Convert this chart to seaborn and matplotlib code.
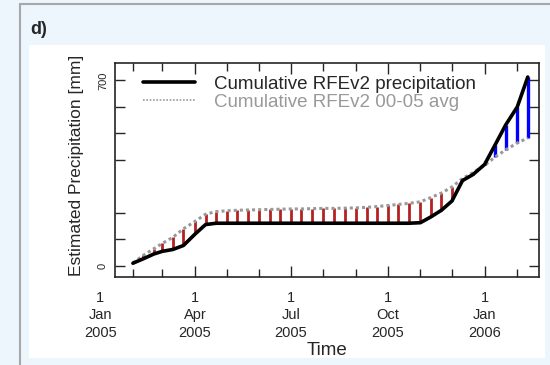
import numpy as np
import pandas as pd
import matplotlib
matplotlib.use("Agg")
import matplotlib.pyplot as plt
import matplotlib.dates as mdates
import matplotlib.transforms as mtransforms
from matplotlib.patches import Rectangle
import seaborn as sns

# dekadal dates (1st, 11th, 21st of each month), Feb 2005 - Feb 2006
days = pd.date_range("2005-02-01", "2006-02-11", freq="D")
dekads = days[days.day.isin([1, 11, 21])]

# cumulative RFEv2 precipitation 2005/06 [mm]
rfe_cum = [10, 27, 45,
           55, 62, 77,
           120, 156, 161,
           161, 161, 161,
           161, 161, 161,
           161, 161, 161,
           161, 161, 161,
           161, 161, 161,
           161, 161, 161,
           163, 185, 210,
           245, 322, 345,
           383, 457, 532,
           600, 713]

# cumulative RFEv2 2000-05 average [mm]
avg_cum = [11, 40, 65,
           85, 108, 140,
           168, 195, 205,
           208, 210, 211,
           212, 213, 214,
           215, 215, 216,
           217, 217, 218,
           219, 221, 224,
           228, 232, 236,
           242, 258, 275,
           298, 330, 352,
           380, 411, 438,
           464, 483]

ytick_vals = [0, 100, 200, 400, 500, 600, 700]
label_dates = ["2005-01-01", "2005-04-01", "2005-07-01", "2005-10-01", "2006-01-01"]
label_text = ["1\nJan\n2005", "1\nApr\n2005", "1\nJul\n2005", "1\nOct\n2005", "1\nJan\n2006"]

df = pd.DataFrame({"date": dekads, "rfe": rfe_cum, "avg": avg_cum})

sns.set_style("ticks")
plt.rcParams["font.family"] = ["Liberation Sans", "DejaVu Sans"]

fig = plt.figure(figsize=(5.5, 3.65), dpi=100)
fig.patch.set_facecolor("#eef6fd")
# outer panel frame and white plot area
fig.patches.append(Rectangle((20 / 550, -0.1), 1.2, 1.1 - 4 / 365, transform=fig.transFigure,
                             facecolor="none", edgecolor="#a8a8a8", lw=1.5, zorder=-2))
fig.patches.append(Rectangle((29 / 550, 7 / 365), 516 / 550, 313 / 365, transform=fig.transFigure,
                             facecolor="white", edgecolor="none", zorder=-1))
fig.text(30 / 550, 1 - 30 / 365, "d)", fontsize=13, fontweight="bold", va="center", ha="left")

ax = fig.add_axes([115 / 550, 1 - 277 / 365, 424 / 550, 214 / 365])
ax.set_facecolor("white")

# difference bars
below = df["rfe"] < df["avg"]
ax.vlines(df["date"][below], df["rfe"][below], df["avg"][below], color="#b22222", lw=2, zorder=1)
ax.vlines(df["date"][~below], df["avg"][~below], df["rfe"][~below], color="#0000ff", lw=2.4, zorder=1)

sns.lineplot(data=df, x="date", y="avg", ax=ax, color="#999999", lw=2.2,
             linestyle=(0, (1, 1)), label="Cumulative RFEv2 00-05 avg", zorder=2)
sns.lineplot(data=df, x="date", y="rfe", ax=ax, color="black", lw=2.6,
             label="Cumulative RFEv2 precipitation", zorder=3)

ax.set_xlim(pd.Timestamp("2005-01-15"), pd.Timestamp("2006-02-21 16:00"))
ax.set_ylim(-42, 766)

ax.xaxis.set_major_locator(mdates.MonthLocator(bymonth=[1, 4, 7, 10]))
ax.xaxis.set_minor_locator(mdates.MonthLocator())
ax.tick_params(axis="x", which="major", direction="in", length=8, width=1, top=True, labelbottom=False)
ax.tick_params(axis="x", which="minor", direction="in", length=5.5, width=1, top=True)
ax.set_yticks(ytick_vals)
ax.set_yticklabels(["0", "", "", "", "", "", "700"], rotation=90, va="center", fontsize=8)
ax.tick_params(axis="y", direction="in", length=7, width=1, right=True, pad=5)
for s in ax.spines.values():
    s.set_linewidth(1.2)

trans = mtransforms.blended_transform_factory(ax.transData, ax.transAxes)
for d, t in zip(label_dates, label_text):
    ax.text(mdates.date2num(pd.Timestamp(d)), -0.065, t, transform=trans, ha="center", va="top",
            fontsize=10.5, linespacing=1.3, clip_on=False)

ax.set_xlabel("Time", fontsize=13.5)
ax.xaxis.label.set_va("center")
ax.xaxis.set_label_coords(0.5, -0.345)
ax.set_ylabel("Estimated Precipitation [mm]", fontsize=12.5)
ax.yaxis.label.set_va("center")
ax.yaxis.set_label_coords(-0.09, 0.52)

# legend order: observed first, then average
h, l = ax.get_legend_handles_labels()
leg = ax.legend(h[::-1], l[::-1], loc="upper left", bbox_to_anchor=(0.066, 0.94), frameon=False,
                fontsize=13.5, handlelength=2.8, handletextpad=1.0, labelspacing=0.05, borderpad=0,
                borderaxespad=0)
leg.get_texts()[1].set_color("#999999")
leg.get_lines()[1].set_linewidth(1.2)

fig.savefig("out.png", dpi=100, facecolor=fig.get_facecolor())
